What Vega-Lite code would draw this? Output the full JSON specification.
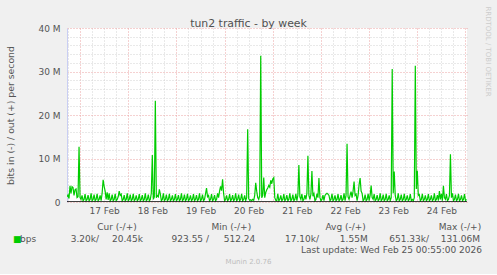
{
"$schema": "https://vega.github.io/schema/vega-lite/v6.json",
"background": "#F0F0F0",
"padding": {"left": 6, "top": 5, "right": 6, "bottom": 9},
"config": {"font": "DejaVu Sans", "view": {"stroke": null}},
"spacing": 8,
"vconcat": [
{
"width": 400, "height": 174,
"view": {"fill": "#FFFFFF", "stroke": null},
"layer": [
{
"data": {"values": [
{"time":"2026-02-16T17:30","mbps":1.2},{"time":"2026-02-16T18:00","mbps":1.6},{"time":"2026-02-16T18:30","mbps":0.8},{"time":"2026-02-16T19:00","mbps":3.7},{"time":"2026-02-16T19:30","mbps":2.0},{"time":"2026-02-16T20:00","mbps":3.5},{"time":"2026-02-16T20:30","mbps":3.3},{"time":"2026-02-16T21:00","mbps":1.5},{"time":"2026-02-16T21:30","mbps":2.8},{"time":"2026-02-16T22:00","mbps":3.0},{"time":"2026-02-16T22:30","mbps":1.0},{"time":"2026-02-16T23:00","mbps":1.2},{"time":"2026-02-16T23:30","mbps":12.7},
{"time":"2026-02-17T00:00","mbps":1.0},{"time":"2026-02-17T00:30","mbps":0.6},{"time":"2026-02-17T01:00","mbps":1.5},{"time":"2026-02-17T01:30","mbps":0.3},{"time":"2026-02-17T02:00","mbps":0.6},{"time":"2026-02-17T02:30","mbps":1.8},{"time":"2026-02-17T03:00","mbps":0.3},{"time":"2026-02-17T03:30","mbps":0.6},{"time":"2026-02-17T04:00","mbps":1.6},{"time":"2026-02-17T04:30","mbps":0.3},{"time":"2026-02-17T05:00","mbps":0.6},{"time":"2026-02-17T05:30","mbps":2.0},
{"time":"2026-02-17T06:00","mbps":0.3},{"time":"2026-02-17T06:30","mbps":0.6},{"time":"2026-02-17T07:00","mbps":1.7},{"time":"2026-02-17T07:30","mbps":0.3},{"time":"2026-02-17T08:00","mbps":0.6},{"time":"2026-02-17T08:30","mbps":1.9},{"time":"2026-02-17T09:00","mbps":0.3},{"time":"2026-02-17T09:30","mbps":0.6},{"time":"2026-02-17T10:00","mbps":1.5},{"time":"2026-02-17T10:30","mbps":0.3},{"time":"2026-02-17T11:00","mbps":2.0},{"time":"2026-02-17T11:30","mbps":5.1},
{"time":"2026-02-17T12:00","mbps":3.6},{"time":"2026-02-17T12:30","mbps":2.5},{"time":"2026-02-17T13:00","mbps":0.6},{"time":"2026-02-17T13:30","mbps":2.2},{"time":"2026-02-17T14:00","mbps":0.5},{"time":"2026-02-17T14:30","mbps":2.0},{"time":"2026-02-17T15:00","mbps":0.3},{"time":"2026-02-17T15:30","mbps":0.6},{"time":"2026-02-17T16:00","mbps":1.7},{"time":"2026-02-17T16:30","mbps":0.3},{"time":"2026-02-17T17:00","mbps":0.6},{"time":"2026-02-17T17:30","mbps":1.9},
{"time":"2026-02-17T18:00","mbps":0.3},{"time":"2026-02-17T18:30","mbps":0.6},{"time":"2026-02-17T19:00","mbps":1.2},{"time":"2026-02-17T19:30","mbps":2.5},{"time":"2026-02-17T20:00","mbps":1.5},{"time":"2026-02-17T20:30","mbps":1.8},{"time":"2026-02-17T21:00","mbps":0.3},{"time":"2026-02-17T21:30","mbps":0.6},{"time":"2026-02-17T22:00","mbps":1.6},{"time":"2026-02-17T22:30","mbps":0.3},{"time":"2026-02-17T23:00","mbps":0.6},{"time":"2026-02-17T23:30","mbps":2.0},
{"time":"2026-02-18T00:00","mbps":0.3},{"time":"2026-02-18T00:30","mbps":0.6},{"time":"2026-02-18T01:00","mbps":1.7},{"time":"2026-02-18T01:30","mbps":0.3},{"time":"2026-02-18T02:00","mbps":0.6},{"time":"2026-02-18T02:30","mbps":1.9},{"time":"2026-02-18T03:00","mbps":0.3},{"time":"2026-02-18T03:30","mbps":0.6},{"time":"2026-02-18T04:00","mbps":1.5},{"time":"2026-02-18T04:30","mbps":0.3},{"time":"2026-02-18T05:00","mbps":0.6},{"time":"2026-02-18T05:30","mbps":1.8},
{"time":"2026-02-18T06:00","mbps":0.3},{"time":"2026-02-18T06:30","mbps":0.6},{"time":"2026-02-18T07:00","mbps":1.6},{"time":"2026-02-18T07:30","mbps":0.3},{"time":"2026-02-18T08:00","mbps":0.6},{"time":"2026-02-18T08:30","mbps":2.0},{"time":"2026-02-18T09:00","mbps":0.3},{"time":"2026-02-18T09:30","mbps":0.6},{"time":"2026-02-18T10:00","mbps":1.7},{"time":"2026-02-18T10:30","mbps":0.3},{"time":"2026-02-18T11:00","mbps":0.6},{"time":"2026-02-18T11:30","mbps":2.0},
{"time":"2026-02-18T12:00","mbps":10.8},{"time":"2026-02-18T12:30","mbps":0.6},{"time":"2026-02-18T13:00","mbps":1.2},{"time":"2026-02-18T13:30","mbps":23.3},{"time":"2026-02-18T14:00","mbps":1.0},{"time":"2026-02-18T14:30","mbps":1.5},{"time":"2026-02-18T15:00","mbps":1.2},{"time":"2026-02-18T15:30","mbps":2.9},{"time":"2026-02-18T16:00","mbps":1.8},{"time":"2026-02-18T16:30","mbps":0.3},{"time":"2026-02-18T17:00","mbps":0.6},{"time":"2026-02-18T17:30","mbps":2.0},
{"time":"2026-02-18T18:00","mbps":0.3},{"time":"2026-02-18T18:30","mbps":0.6},{"time":"2026-02-18T19:00","mbps":1.7},{"time":"2026-02-18T19:30","mbps":0.3},{"time":"2026-02-18T20:00","mbps":0.6},{"time":"2026-02-18T20:30","mbps":1.9},{"time":"2026-02-18T21:00","mbps":0.3},{"time":"2026-02-18T21:30","mbps":0.6},{"time":"2026-02-18T22:00","mbps":1.5},{"time":"2026-02-18T22:30","mbps":0.3},{"time":"2026-02-18T23:00","mbps":0.6},{"time":"2026-02-18T23:30","mbps":1.8},
{"time":"2026-02-19T00:00","mbps":0.3},{"time":"2026-02-19T00:30","mbps":0.6},{"time":"2026-02-19T01:00","mbps":1.6},{"time":"2026-02-19T01:30","mbps":0.3},{"time":"2026-02-19T02:00","mbps":0.6},{"time":"2026-02-19T02:30","mbps":2.0},{"time":"2026-02-19T03:00","mbps":0.3},{"time":"2026-02-19T03:30","mbps":0.6},{"time":"2026-02-19T04:00","mbps":1.7},{"time":"2026-02-19T04:30","mbps":0.3},{"time":"2026-02-19T05:00","mbps":0.6},{"time":"2026-02-19T05:30","mbps":1.9},
{"time":"2026-02-19T06:00","mbps":0.3},{"time":"2026-02-19T06:30","mbps":0.6},{"time":"2026-02-19T07:00","mbps":1.5},{"time":"2026-02-19T07:30","mbps":0.3},{"time":"2026-02-19T08:00","mbps":0.6},{"time":"2026-02-19T08:30","mbps":1.8},{"time":"2026-02-19T09:00","mbps":0.3},{"time":"2026-02-19T09:30","mbps":0.6},{"time":"2026-02-19T10:00","mbps":1.6},{"time":"2026-02-19T10:30","mbps":0.3},{"time":"2026-02-19T11:00","mbps":0.6},{"time":"2026-02-19T11:30","mbps":2.0},
{"time":"2026-02-19T12:00","mbps":0.3},{"time":"2026-02-19T12:30","mbps":0.6},{"time":"2026-02-19T13:00","mbps":1.7},{"time":"2026-02-19T13:30","mbps":0.3},{"time":"2026-02-19T14:00","mbps":0.6},{"time":"2026-02-19T14:30","mbps":1.9},{"time":"2026-02-19T15:00","mbps":3.2},{"time":"2026-02-19T15:30","mbps":1.2},{"time":"2026-02-19T16:00","mbps":1.5},{"time":"2026-02-19T16:30","mbps":0.3},{"time":"2026-02-19T17:00","mbps":0.6},{"time":"2026-02-19T17:30","mbps":1.8},
{"time":"2026-02-19T18:00","mbps":0.3},{"time":"2026-02-19T18:30","mbps":0.6},{"time":"2026-02-19T19:00","mbps":1.6},{"time":"2026-02-19T19:30","mbps":0.3},{"time":"2026-02-19T20:00","mbps":0.6},{"time":"2026-02-19T20:30","mbps":2.0},{"time":"2026-02-19T21:00","mbps":1.0},{"time":"2026-02-19T21:30","mbps":2.5},{"time":"2026-02-19T22:00","mbps":3.6},{"time":"2026-02-19T22:30","mbps":2.6},{"time":"2026-02-19T23:00","mbps":5.2},{"time":"2026-02-19T23:30","mbps":2.0},
{"time":"2026-02-20T00:00","mbps":0.3},{"time":"2026-02-20T00:30","mbps":0.6},{"time":"2026-02-20T01:00","mbps":1.5},{"time":"2026-02-20T01:30","mbps":0.3},{"time":"2026-02-20T02:00","mbps":0.6},{"time":"2026-02-20T02:30","mbps":1.8},{"time":"2026-02-20T03:00","mbps":0.3},{"time":"2026-02-20T03:30","mbps":0.6},{"time":"2026-02-20T04:00","mbps":1.6},{"time":"2026-02-20T04:30","mbps":0.3},{"time":"2026-02-20T05:00","mbps":0.6},{"time":"2026-02-20T05:30","mbps":2.0},
{"time":"2026-02-20T06:00","mbps":0.3},{"time":"2026-02-20T06:30","mbps":0.6},{"time":"2026-02-20T07:00","mbps":1.7},{"time":"2026-02-20T07:30","mbps":0.3},{"time":"2026-02-20T08:00","mbps":0.6},{"time":"2026-02-20T08:30","mbps":1.9},{"time":"2026-02-20T09:00","mbps":0.3},{"time":"2026-02-20T09:30","mbps":0.6},{"time":"2026-02-20T10:00","mbps":1.5},{"time":"2026-02-20T10:30","mbps":0.3},{"time":"2026-02-20T11:00","mbps":1.0},{"time":"2026-02-20T11:30","mbps":16.7},
{"time":"2026-02-20T12:00","mbps":0.8},{"time":"2026-02-20T12:30","mbps":0.4},{"time":"2026-02-20T13:00","mbps":0.5},{"time":"2026-02-20T13:30","mbps":0.3},{"time":"2026-02-20T14:00","mbps":0.6},{"time":"2026-02-20T14:30","mbps":0.4},{"time":"2026-02-20T15:00","mbps":1.5},{"time":"2026-02-20T15:30","mbps":4.4},{"time":"2026-02-20T16:00","mbps":2.5},{"time":"2026-02-20T16:30","mbps":1.0},{"time":"2026-02-20T17:00","mbps":0.6},{"time":"2026-02-20T17:30","mbps":1.5},
{"time":"2026-02-20T18:00","mbps":33.6},{"time":"2026-02-20T18:30","mbps":1.0},{"time":"2026-02-20T19:00","mbps":1.5},{"time":"2026-02-20T19:30","mbps":5.6},{"time":"2026-02-20T20:00","mbps":1.0},{"time":"2026-02-20T20:30","mbps":2.2},{"time":"2026-02-20T21:00","mbps":2.8},{"time":"2026-02-20T21:30","mbps":3.2},{"time":"2026-02-20T22:00","mbps":3.8},{"time":"2026-02-20T22:30","mbps":3.4},{"time":"2026-02-20T23:00","mbps":5.0},{"time":"2026-02-20T23:30","mbps":4.2},
{"time":"2026-02-21T00:00","mbps":5.3},{"time":"2026-02-21T00:30","mbps":5.6},{"time":"2026-02-21T01:00","mbps":1.0},{"time":"2026-02-21T01:30","mbps":0.4},{"time":"2026-02-21T02:00","mbps":0.3},{"time":"2026-02-21T02:30","mbps":1.9},{"time":"2026-02-21T03:00","mbps":0.3},{"time":"2026-02-21T03:30","mbps":0.6},{"time":"2026-02-21T04:00","mbps":1.5},{"time":"2026-02-21T04:30","mbps":0.3},{"time":"2026-02-21T05:00","mbps":0.6},{"time":"2026-02-21T05:30","mbps":1.8},
{"time":"2026-02-21T06:00","mbps":0.3},{"time":"2026-02-21T06:30","mbps":0.6},{"time":"2026-02-21T07:00","mbps":1.6},{"time":"2026-02-21T07:30","mbps":0.3},{"time":"2026-02-21T08:00","mbps":0.6},{"time":"2026-02-21T08:30","mbps":2.0},{"time":"2026-02-21T09:00","mbps":0.3},{"time":"2026-02-21T09:30","mbps":0.6},{"time":"2026-02-21T10:00","mbps":1.7},{"time":"2026-02-21T10:30","mbps":0.3},{"time":"2026-02-21T11:00","mbps":0.6},{"time":"2026-02-21T11:30","mbps":1.9},
{"time":"2026-02-21T12:00","mbps":0.3},{"time":"2026-02-21T12:30","mbps":1.5},{"time":"2026-02-21T13:00","mbps":8.5},{"time":"2026-02-21T13:30","mbps":1.2},{"time":"2026-02-21T14:00","mbps":0.6},{"time":"2026-02-21T14:30","mbps":1.8},{"time":"2026-02-21T15:00","mbps":0.3},{"time":"2026-02-21T15:30","mbps":0.6},{"time":"2026-02-21T16:00","mbps":1.6},{"time":"2026-02-21T16:30","mbps":0.6},{"time":"2026-02-21T17:00","mbps":2.0},{"time":"2026-02-21T17:30","mbps":10.6},
{"time":"2026-02-21T18:00","mbps":1.5},{"time":"2026-02-21T18:30","mbps":0.6},{"time":"2026-02-21T19:00","mbps":1.8},{"time":"2026-02-21T19:30","mbps":7.1},{"time":"2026-02-21T20:00","mbps":1.3},{"time":"2026-02-21T20:30","mbps":1.9},{"time":"2026-02-21T21:00","mbps":0.3},{"time":"2026-02-21T21:30","mbps":0.6},{"time":"2026-02-21T22:00","mbps":1.9},{"time":"2026-02-21T22:30","mbps":1.0},{"time":"2026-02-21T23:00","mbps":5.5},{"time":"2026-02-21T23:30","mbps":1.0},
{"time":"2026-02-22T00:00","mbps":0.3},{"time":"2026-02-22T00:30","mbps":0.6},{"time":"2026-02-22T01:00","mbps":1.6},{"time":"2026-02-22T01:30","mbps":0.3},{"time":"2026-02-22T02:00","mbps":1.5},{"time":"2026-02-22T02:30","mbps":1.8},{"time":"2026-02-22T03:00","mbps":2.0},{"time":"2026-02-22T03:30","mbps":1.8},{"time":"2026-02-22T04:00","mbps":1.5},{"time":"2026-02-22T04:30","mbps":0.3},{"time":"2026-02-22T05:00","mbps":0.6},{"time":"2026-02-22T05:30","mbps":1.9},
{"time":"2026-02-22T06:00","mbps":0.3},{"time":"2026-02-22T06:30","mbps":0.6},{"time":"2026-02-22T07:00","mbps":1.5},{"time":"2026-02-22T07:30","mbps":0.3},{"time":"2026-02-22T08:00","mbps":0.6},{"time":"2026-02-22T08:30","mbps":1.8},{"time":"2026-02-22T09:00","mbps":0.3},{"time":"2026-02-22T09:30","mbps":0.6},{"time":"2026-02-22T10:00","mbps":1.6},{"time":"2026-02-22T10:30","mbps":0.3},{"time":"2026-02-22T11:00","mbps":0.6},{"time":"2026-02-22T11:30","mbps":2.0},
{"time":"2026-02-22T12:00","mbps":0.3},{"time":"2026-02-22T12:30","mbps":1.5},{"time":"2026-02-22T13:00","mbps":13.4},{"time":"2026-02-22T13:30","mbps":1.2},{"time":"2026-02-22T14:00","mbps":0.6},{"time":"2026-02-22T14:30","mbps":1.5},{"time":"2026-02-22T15:00","mbps":2.4},{"time":"2026-02-22T15:30","mbps":1.0},{"time":"2026-02-22T16:00","mbps":2.5},{"time":"2026-02-22T16:30","mbps":4.7},{"time":"2026-02-22T17:00","mbps":1.5},{"time":"2026-02-22T17:30","mbps":1.8},
{"time":"2026-02-22T18:00","mbps":0.3},{"time":"2026-02-22T18:30","mbps":1.5},{"time":"2026-02-22T19:00","mbps":4.0},{"time":"2026-02-22T19:30","mbps":5.5},{"time":"2026-02-22T20:00","mbps":2.5},{"time":"2026-02-22T20:30","mbps":2.0},{"time":"2026-02-22T21:00","mbps":0.3},{"time":"2026-02-22T21:30","mbps":0.6},{"time":"2026-02-22T22:00","mbps":1.7},{"time":"2026-02-22T22:30","mbps":0.3},{"time":"2026-02-22T23:00","mbps":0.6},{"time":"2026-02-22T23:30","mbps":1.9},
{"time":"2026-02-23T00:00","mbps":0.3},{"time":"2026-02-23T00:30","mbps":1.5},{"time":"2026-02-23T01:00","mbps":3.8},{"time":"2026-02-23T01:30","mbps":1.0},{"time":"2026-02-23T02:00","mbps":0.6},{"time":"2026-02-23T02:30","mbps":1.8},{"time":"2026-02-23T03:00","mbps":0.3},{"time":"2026-02-23T03:30","mbps":0.6},{"time":"2026-02-23T04:00","mbps":1.6},{"time":"2026-02-23T04:30","mbps":0.3},{"time":"2026-02-23T05:00","mbps":0.6},{"time":"2026-02-23T05:30","mbps":2.0},
{"time":"2026-02-23T06:00","mbps":0.3},{"time":"2026-02-23T06:30","mbps":0.6},{"time":"2026-02-23T07:00","mbps":1.7},{"time":"2026-02-23T07:30","mbps":0.3},{"time":"2026-02-23T08:00","mbps":0.6},{"time":"2026-02-23T08:30","mbps":1.9},{"time":"2026-02-23T09:00","mbps":0.3},{"time":"2026-02-23T09:30","mbps":0.6},{"time":"2026-02-23T10:00","mbps":1.5},{"time":"2026-02-23T10:30","mbps":0.3},{"time":"2026-02-23T11:00","mbps":1.0},{"time":"2026-02-23T11:30","mbps":30.6},
{"time":"2026-02-23T12:00","mbps":2.0},{"time":"2026-02-23T12:30","mbps":7.0},{"time":"2026-02-23T13:00","mbps":1.5},{"time":"2026-02-23T13:30","mbps":0.3},{"time":"2026-02-23T14:00","mbps":0.6},{"time":"2026-02-23T14:30","mbps":2.0},{"time":"2026-02-23T15:00","mbps":0.3},{"time":"2026-02-23T15:30","mbps":0.6},{"time":"2026-02-23T16:00","mbps":1.7},{"time":"2026-02-23T16:30","mbps":0.3},{"time":"2026-02-23T17:00","mbps":0.6},{"time":"2026-02-23T17:30","mbps":1.9},
{"time":"2026-02-23T18:00","mbps":0.3},{"time":"2026-02-23T18:30","mbps":0.6},{"time":"2026-02-23T19:00","mbps":1.5},{"time":"2026-02-23T19:30","mbps":0.3},{"time":"2026-02-23T20:00","mbps":0.6},{"time":"2026-02-23T20:30","mbps":1.8},{"time":"2026-02-23T21:00","mbps":0.3},{"time":"2026-02-23T21:30","mbps":0.6},{"time":"2026-02-23T22:00","mbps":0.3},{"time":"2026-02-23T22:30","mbps":1.0},{"time":"2026-02-23T23:00","mbps":31.3},{"time":"2026-02-23T23:30","mbps":3.0},
{"time":"2026-02-24T00:00","mbps":7.2},{"time":"2026-02-24T00:30","mbps":1.5},{"time":"2026-02-24T01:00","mbps":1.7},{"time":"2026-02-24T01:30","mbps":0.3},{"time":"2026-02-24T02:00","mbps":0.6},{"time":"2026-02-24T02:30","mbps":1.9},{"time":"2026-02-24T03:00","mbps":0.3},{"time":"2026-02-24T03:30","mbps":0.6},{"time":"2026-02-24T04:00","mbps":1.5},{"time":"2026-02-24T04:30","mbps":0.3},{"time":"2026-02-24T05:00","mbps":0.6},{"time":"2026-02-24T05:30","mbps":1.8},
{"time":"2026-02-24T06:00","mbps":0.3},{"time":"2026-02-24T06:30","mbps":0.6},{"time":"2026-02-24T07:00","mbps":1.5},{"time":"2026-02-24T07:30","mbps":0.3},{"time":"2026-02-24T08:00","mbps":0.6},{"time":"2026-02-24T08:30","mbps":2.0},{"time":"2026-02-24T09:00","mbps":0.3},{"time":"2026-02-24T09:30","mbps":0.6},{"time":"2026-02-24T10:00","mbps":1.6},{"time":"2026-02-24T10:30","mbps":0.3},{"time":"2026-02-24T11:00","mbps":2.5},{"time":"2026-02-24T11:30","mbps":0.6},
{"time":"2026-02-24T12:00","mbps":1.9},{"time":"2026-02-24T12:30","mbps":0.3},{"time":"2026-02-24T13:00","mbps":3.7},{"time":"2026-02-24T13:30","mbps":1.0},{"time":"2026-02-24T14:00","mbps":0.6},{"time":"2026-02-24T14:30","mbps":1.8},{"time":"2026-02-24T15:00","mbps":0.3},{"time":"2026-02-24T15:30","mbps":0.6},{"time":"2026-02-24T16:00","mbps":1.5},{"time":"2026-02-24T16:30","mbps":11.0},{"time":"2026-02-24T17:00","mbps":1.0},{"time":"2026-02-24T17:30","mbps":2.0},
{"time":"2026-02-24T18:00","mbps":0.3},{"time":"2026-02-24T18:30","mbps":0.6},{"time":"2026-02-24T19:00","mbps":1.7},{"time":"2026-02-24T19:30","mbps":0.3},{"time":"2026-02-24T20:00","mbps":0.6},{"time":"2026-02-24T20:30","mbps":1.9},{"time":"2026-02-24T21:00","mbps":0.3},{"time":"2026-02-24T21:30","mbps":0.6},{"time":"2026-02-24T22:00","mbps":1.5},{"time":"2026-02-24T22:30","mbps":0.3},{"time":"2026-02-24T23:00","mbps":0.6},{"time":"2026-02-24T23:30","mbps":1.8},
{"time":"2026-02-25T00:00","mbps":0.3},{"time":"2026-02-25T00:30","mbps":0.6}
]},
"mark": {"type": "line", "color": "#00CC00", "strokeWidth": 1.2, "clip": true},
"encoding": {
"x": {"field": "time", "type": "temporal",
"scale": {"domain": [{"year": 2026, "month": 2, "date": 16, "hours": 17, "minutes": 30}, {"year": 2026, "month": 2, "date": 25, "hours": 0, "minutes": 45}]},
"axis": {"orient": "bottom", "title": null, "tickCount": 40, "grid": true,
"gridColor": {"condition": {"test": "hours(datum.value) === 0", "value": "#EBA3A3"}, "value": "#D3D3D3"},
"gridDash": [1, 2], "gridWidth": 1, "ticks": false, "tickSize": 0, "domain": false,
"labelExpr": "hours(datum.value) === 12 ? timeFormat(datum.value, '%d %b') : ''",
"labelFontSize": 9, "labelColor": "#555555", "labelPadding": 4, "labelOverlap": false, "labelFlush": false, "labelBound": false}},
"y": {"field": "mbps", "type": "quantitative",
"scale": {"domain": [0, 40], "nice": false},
"axis": {"orient": "left", "title": "bits in (-) / out (+) per second",
"values": [0, 2, 4, 6, 8, 10, 12, 14, 16, 18, 20, 22, 24, 26, 28, 30, 32, 34, 36, 38, 40],
"grid": true,
"gridColor": {"condition": {"test": "datum.value % 10 === 0", "value": "#EBA3A3"}, "value": "#D3D3D3"},
"gridDash": [1, 2], "gridWidth": 1, "ticks": false, "tickSize": 0,
"domain": true, "domainColor": "#C9CEF3", "domainWidth": 1,
"labelExpr": "datum.value % 10 === 0 ? (datum.value === 0 ? '0' : datum.value + ' M') : ''",
"labelFontSize": 9, "labelColor": "#555555", "labelPadding": 7, "labelOverlap": false, "labelFlush": false,
"titleFontSize": 9.3, "titleFontWeight": "normal", "titleColor": "#555555", "titlePadding": 22}}
}
},
{
"data": {"values": [{"time": "2026-02-16T17:30", "level": 0}, {"time": "2026-02-25T00:45", "level": 0}]},
"mark": {"type": "line", "color": "#000000", "strokeWidth": 1.6, "clip": true},
"encoding": {
"x": {"field": "time", "type": "temporal",
"axis": {"orient": "top", "title": "tun2 traffic - by week", "labels": false, "ticks": false, "tickSize": 0, "domain": false, "grid": false,
"titleX": 181, "titleY": -2, "titleAlign": "center", "titleBaseline": "alphabetic", "titleAngle": 0,
"titleFontSize": 10.9, "titleFontWeight": "normal", "titleColor": "#505050"}},
"y": {"field": "level", "type": "quantitative",
"axis": {"orient": "right", "title": "RRDTOOL / TOBI OETIKER", "labels": false, "ticks": false, "tickSize": 0, "domain": false, "grid": false,
"titleX": 20.7, "titleY": 23, "titleAngle": 90, "titleAlign": "center", "titleBaseline": "middle",
"titleFontSize": 7, "titleFontWeight": "normal", "titleColor": "#CCCCCC"}}
}
}
],
"resolve": {"axis": {"x": "independent", "y": "independent"}}
},
{
"width": 415, "height": 23,
"view": {"stroke": null},
"title": {"text": "Munin 2.0.76", "orient": "bottom", "anchor": "middle", "frame": "group", "fontSize": 7, "fontWeight": "normal", "color": "#BDBDBD", "offset": 3, "dx": -26},
"data": {"values": [
{"row": "v", "stat": "bps", "part": "key", "label": "bps"},
{"row": "h", "stat": "Cur", "part": "head", "label": "Cur (-/+)"},
{"row": "h", "stat": "Min", "part": "head", "label": "Min (-/+)"},
{"row": "h", "stat": "Avg", "part": "head", "label": "Avg (-/+)"},
{"row": "h", "stat": "Max", "part": "head", "label": "Max (-/+)"},
{"row": "v", "stat": "Cur", "part": "in", "label": "3.20k/"},
{"row": "v", "stat": "Cur", "part": "out", "label": "20.45k"},
{"row": "v", "stat": "Min", "part": "in", "label": "923.55 /"},
{"row": "v", "stat": "Min", "part": "out", "label": "512.24"},
{"row": "v", "stat": "Avg", "part": "in", "label": "17.10k/"},
{"row": "v", "stat": "Avg", "part": "out", "label": "1.55M"},
{"row": "v", "stat": "Max", "part": "in", "label": "651.33k/"},
{"row": "v", "stat": "Max", "part": "out", "label": "131.06M"},
{"row": "u", "stat": "Max", "part": "upd", "label": "Last update: Wed Feb 25 00:55:00 2026"}
]},
"encoding": {"y": {"field": "row", "type": "ordinal", "scale": {"type": "point", "domain": ["h", "v", "u"], "padding": 0}, "axis": null}},
"layer": [
{"transform": [{"filter": "datum.part === 'key'"}],
"mark": {"type": "text", "text": "■", "color": "#00CC00", "fontSize": 9, "align": "left", "baseline": "middle"},
"encoding": {"x": {"field": "stat", "type": "nominal", "scale": {"type": "point", "domain": ["bps"], "range": [-54, -54], "padding": 0}, "axis": null}}},
{"transform": [{"filter": "datum.part === 'key'"}],
"mark": {"type": "text", "color": "#555555", "fontSize": 9, "align": "left", "baseline": "middle"},
"encoding": {"x": {"field": "stat", "type": "nominal", "scale": {"type": "point", "domain": ["bps"], "range": [-47, -47], "padding": 0}, "axis": null}, "text": {"field": "label"}}},
{"transform": [{"filter": "datum.part === 'head'"}],
"mark": {"type": "text", "color": "#555555", "fontSize": 9, "align": "center", "baseline": "middle"},
"encoding": {"x": {"field": "stat", "type": "nominal", "scale": {"type": "point", "domain": ["Cur", "Min", "Avg", "Max"], "range": [50, 393], "padding": 0}, "axis": null}, "text": {"field": "label"}}},
{"transform": [{"filter": "datum.part === 'in'"}],
"mark": {"type": "text", "color": "#555555", "fontSize": 9, "align": "right", "baseline": "middle"},
"encoding": {"x": {"field": "stat", "type": "nominal", "scale": {"type": "point", "domain": ["Cur", "Min", "Avg", "Max"], "range": [32, 362], "padding": 0}, "axis": null}, "text": {"field": "label"}}},
{"transform": [{"filter": "datum.part === 'out'"}],
"mark": {"type": "text", "color": "#555555", "fontSize": 9, "align": "right", "baseline": "middle"},
"encoding": {"x": {"field": "stat", "type": "nominal", "scale": {"type": "point", "domain": ["Cur", "Min", "Avg", "Max"], "range": [76, 413], "padding": 0}, "axis": null}, "text": {"field": "label"}}},
{"transform": [{"filter": "datum.part === 'upd'"}],
"mark": {"type": "text", "color": "#555555", "fontSize": 9, "align": "right", "baseline": "middle"},
"encoding": {"x": {"field": "stat", "type": "nominal", "scale": {"type": "point", "domain": ["Max"], "range": [415, 415], "padding": 0}, "axis": null}, "text": {"field": "label"}}}
],
"resolve": {"scale": {"x": "independent"}}
}
]
}
